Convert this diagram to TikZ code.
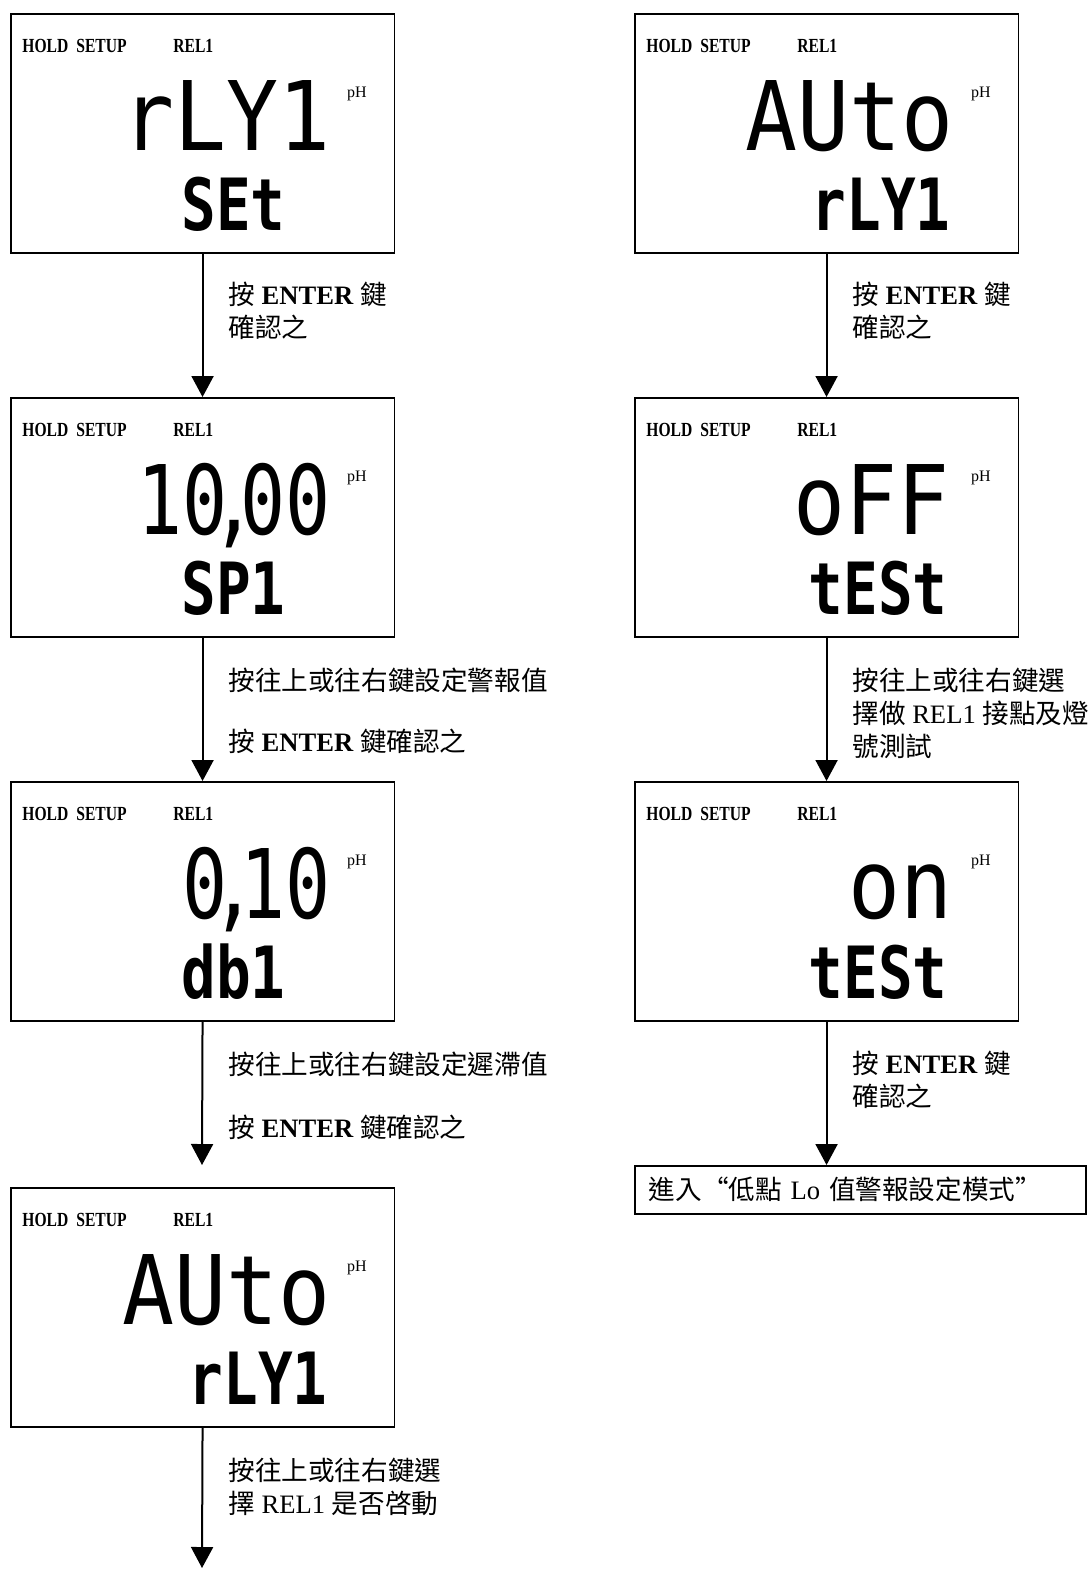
\documentclass[tikz,border=0pt]{standalone}
\usepackage{fontspec}
\setmainfont{Liberation Serif}
\newfontfamily\cjk{Noto Sans CJK TC}
\newfontfamily\cjkq{Noto Sans CJK TC}[RawFeature=+fwid]
\newfontfamily\segfont{DejaVu Sans Mono}[FakeStretch=0.9]
\newfontfamily\segnum{DejaVu Sans Mono}[FakeStretch=0.78]
\newfontfamily\segsmall{DejaVu Sans Mono}[FakeStretch=0.8]
\newfontfamily\hdrfont{Liberation Serif}[FakeStretch=0.78]
\usetikzlibrary{arrows.meta}
\newcommand\C[1]{{\cjk #1}}
\newcommand\segdp{\kern-8pt,\kern-8pt}
\tikzset{
  lcd/.style={draw, line width=0.8pt, minimum width=191.75pt, minimum height=119.5pt, inner sep=0pt},
  hdr/.style={inner sep=0pt, font=\hdrfont\bfseries\fontsize{10pt}{12pt}\selectfont},
  phtext/.style={inner sep=0pt, font=\fontsize{8pt}{10pt}\selectfont},
  bigseg/.style={inner sep=0pt, font=\segfont\fontsize{48pt}{48pt}\selectfont},
  smallseg/.style={inner sep=0pt, font=\segsmall\bfseries\fontsize{36pt}{36pt}\selectfont},
  lbl/.style={inner sep=0pt, anchor=west, align=left, font=\fontsize{13.3pt}{16.5pt}\selectfont},
  arr/.style={line width=1pt, -{Triangle[length=10.5pt,width=11pt]}},
  endbox/.style={draw, line width=0.8pt, anchor=north west, minimum height=24pt, text width=211.5pt, inner xsep=7pt, align=left, font=\fontsize{13.3pt}{16.5pt}\selectfont}
}
\newcommand\lcdbox[7]{%
\begin{scope}[shift={(#2,#3)}]
\node[lcd, anchor=north west] (#1) at (0,0) {};
\node[hdr, anchor=base west] (#1-h1) at (12,39) {HOLD};
\node[hdr, anchor=base west] (#1-h2) at (66,39) {SETUP};
\node[hdr, anchor=base west] (#1-h3) at (163,39) {REL1};
\node[phtext] (#1-ph) at (347,81) {pH};
\node[bigseg, anchor=base east] (#1-b) at (#5,137) {#4};
\node[smallseg, anchor=base east] (#1-s) at (#7,217) {#6};
\end{scope}}
\begin{document}
\begin{tikzpicture}[x=0.5pt, y=-0.5pt]
\useasboundingbox (0,0) rectangle (1091,1570);
% left column
\lcdbox{L1}{10}{13}{rLY1}{321}{SEt}{276}
\lcdbox{L2}{10}{397}{\segnum 10\segdp00}{321}{SP1}{276}
\lcdbox{L3}{10}{781}{\segnum 0\segdp10}{321}{db1}{276}
\lcdbox{L4}{10}{1187}{AUto}{321}{rLY1}{318}
% right column
\lcdbox{R1}{634}{13}{AUto}{320}{rLY1}{317}
\lcdbox{R2}{634}{397}{oFF}{316}{tESt}{314}
\lcdbox{R3}{634}{781}{on}{319}{tESt}{314}
% final box
\node[endbox] (F) at (634,1165) {{\cjkq 進入“低點}~Lo~{\cjkq 值警報設定模式”}};
% connector ends
\coordinate (e3) at (202,1165);
\coordinate (e4) at (202,1568);
% arrows
\draw[arr] (L1.south) -- (L2.north);
\draw[arr] (L2.south) -- (L3.north);
\draw[arr] (L3.south) -- (e3);
\draw[arr] (L4.south) -- (e4);
\draw[arr] (R1.south) -- (R2.north);
\draw[arr] (R2.south) -- (R3.north);
\draw[arr] (R3.south) -- (R3.south |- F.north);
% labels
\node[lbl] (t1) at (228,310.5) {\C{按} \textbf{ENTER} \C{鍵}\\\C{確認之}};
\node[lbl] (t2a) at (228,680) {\C{按往上或往右鍵設定警報值}};
\node[lbl] (t2b) at (228,741) {\C{按} \textbf{ENTER} \C{鍵確認之}};
\node[lbl] (t3a) at (228,1064) {\C{按往上或往右鍵設定遲滯值}};
\node[lbl] (t3b) at (228,1127) {\C{按} \textbf{ENTER} \C{鍵確認之}};
\node[lbl] (t4) at (228,1487) {\C{按往上或往右鍵選}\\\C{擇} REL1 \C{是否啓動}};
\node[lbl] (u1) at (852,310.5) {\C{按} \textbf{ENTER} \C{鍵}\\\C{確認之}};
\node[lbl] (u2) at (852,713) {\C{按往上或往右鍵選}\\\C{擇做} REL1 \C{接點及燈}\\\C{號測試}};
\node[lbl] (u3) at (852,1080) {\C{按} \textbf{ENTER} \C{鍵}\\\C{確認之}};
\end{tikzpicture}
\end{document}
